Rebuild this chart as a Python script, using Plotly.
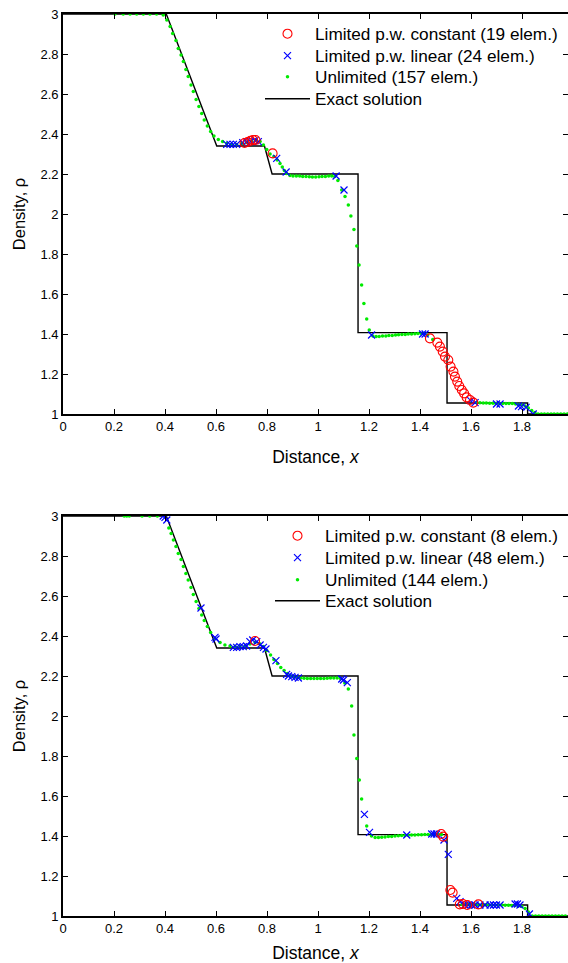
import plotly.graph_objects as go

# ---------------- exact solution (same for both panels) ----------------
exact_x = [0.0, 0.405, 0.603, 0.79, 0.82, 1.157, 1.157, 1.506, 1.506, 1.822, 1.822, 2.0]
exact_y = [3.0, 3.0, 2.34, 2.34, 2.2, 2.2, 1.407, 1.407, 1.055, 1.055, 1.0, 1.0]

# ---------------- upper panel ----------------
top_const_x = [0.712, 0.724, 0.735, 0.745, 0.755, 0.822,
               1.439, 1.468, 1.478, 1.489, 1.498, 1.511, 1.520, 1.531, 1.537,
               1.546, 1.554, 1.564, 1.573, 1.583, 1.596, 1.609]
top_const_y = [2.355, 2.360, 2.366, 2.370, 2.370, 2.303,
               1.378, 1.357, 1.337, 1.312, 1.287, 1.270, 1.237, 1.212, 1.187,
               1.162, 1.140, 1.120, 1.103, 1.083, 1.070, 1.057]

top_lin_x = [0.642, 0.655, 0.668, 0.681, 0.705, 0.720, 0.736, 0.753, 0.766, 0.838,
             0.875, 1.071, 1.102, 1.210, 1.410, 1.420, 1.599, 1.616, 1.700, 1.714,
             1.786, 1.798, 1.816, 1.844]
top_lin_y = [2.348, 2.348, 2.348, 2.348, 2.357, 2.362, 2.362, 2.367, 2.362, 2.278,
             2.210, 2.190, 2.120, 1.395, 1.400, 1.400, 1.067, 1.057, 1.050, 1.050,
             1.040, 1.037, 1.033, 1.000]

top_unl_x = [0.204, 0.236, 0.263, 0.289, 0.315, 0.341, 0.367, 0.393,
             0.407, 0.420, 0.430, 0.443, 0.452, 0.463, 0.472, 0.482, 0.491, 0.502,
             0.511, 0.522, 0.533, 0.544, 0.554, 0.566, 0.579, 0.592, 0.609, 0.626,
             0.642, 0.661, 0.681, 0.701, 0.720, 0.740, 0.757, 0.773, 0.786, 0.799,
             0.812, 0.827, 0.840, 0.851, 0.860, 0.868, 0.877,
             0.890, 0.902, 0.915, 0.928, 0.940, 0.953, 0.966, 0.978, 0.991, 1.004,
             1.016, 1.029, 1.042, 1.054, 1.066,
             1.078, 1.093, 1.106, 1.119, 1.129, 1.141, 1.152, 1.161, 1.171, 1.180,
             1.191, 1.201,
             1.215, 1.228, 1.240, 1.253, 1.266, 1.278, 1.291, 1.304, 1.316, 1.329,
             1.342, 1.354, 1.367, 1.380, 1.392, 1.405, 1.418, 1.430, 1.450,
             1.622, 1.635, 1.648, 1.660, 1.673, 1.686, 1.698, 1.711, 1.724, 1.737,
             1.749, 1.762, 1.775, 1.787, 1.800, 1.812, 1.825, 1.838, 1.850,
             1.863, 1.876, 1.888, 1.901, 1.914, 1.926, 1.939, 1.952, 1.965, 1.978]
top_unl_y = [3.000, 3.000, 3.000, 3.000, 3.000, 3.000, 3.000, 2.995,
             2.970, 2.937, 2.903, 2.867, 2.828, 2.795, 2.762, 2.723, 2.687, 2.645,
             2.612, 2.573, 2.537, 2.503, 2.470, 2.440, 2.412, 2.390, 2.373, 2.362,
             2.353, 2.348, 2.348, 2.353, 2.358, 2.365, 2.370, 2.362, 2.345, 2.322,
             2.300, 2.287, 2.270, 2.253, 2.235, 2.218, 2.203,
             2.192, 2.190, 2.190, 2.190, 2.188, 2.188, 2.186, 2.185, 2.185, 2.186,
             2.187, 2.188, 2.190, 2.190, 2.188,
             2.168, 2.120, 2.087, 2.045, 1.990, 1.923, 1.840, 1.745, 1.645, 1.553,
             1.475, 1.420,
             1.390, 1.388, 1.388, 1.390, 1.390, 1.392, 1.393, 1.395, 1.396, 1.398,
             1.398, 1.400, 1.400, 1.401, 1.402, 1.402, 1.400, 1.395, 1.372,
             1.057, 1.056, 1.055, 1.055, 1.054, 1.054, 1.053, 1.053, 1.053, 1.052,
             1.052, 1.052, 1.050, 1.048, 1.045, 1.040, 1.030, 1.018, 1.008,
             1.000, 1.000, 1.000, 1.000, 1.000, 1.000, 1.000, 1.000, 1.000, 1.000]

# ---------------- lower panel ----------------
bot_const_x = [0.753, 1.483, 1.491, 1.519, 1.528, 1.556, 1.568, 1.585, 1.629]
bot_const_y = [2.375, 1.410, 1.397, 1.130, 1.117, 1.058, 1.060, 1.055, 1.058]

bot_lin_x = [0.393, 0.400, 0.407, 0.541, 0.596, 0.600, 0.668, 0.681, 0.694, 0.707,
             0.720, 0.733, 0.744, 0.760, 0.773, 0.786, 0.796, 0.835, 0.877, 0.884,
             0.897, 0.910, 0.923, 1.093, 1.100, 1.115, 1.182, 1.202, 1.348, 1.446,
             1.455, 1.465, 1.494, 1.511, 1.544, 1.557, 1.576, 1.589, 1.603, 1.616,
             1.635, 1.655, 1.675, 1.688, 1.700, 1.714, 1.773, 1.782, 1.792, 1.829]
bot_lin_y = [3.000, 2.993, 2.980, 2.540, 2.393, 2.385, 2.343, 2.343, 2.347, 2.347,
             2.350, 2.372, 2.380, 2.372, 2.355, 2.343, 2.335, 2.277, 2.208, 2.200,
             2.197, 2.193, 2.190, 2.185, 2.180, 2.167, 1.508, 1.418, 1.405, 1.410,
             1.410, 1.410, 1.380, 1.308, 1.088, 1.072, 1.055, 1.055, 1.055, 1.055,
             1.055, 1.055, 1.055, 1.055, 1.055, 1.055, 1.060, 1.060, 1.055, 1.010]

bot_unl_x = [0.240, 0.250, 0.260, 0.310, 0.340, 0.370,
             0.415, 0.424, 0.433, 0.443, 0.452, 0.463, 0.472, 0.482, 0.491, 0.502,
             0.511, 0.522, 0.533, 0.544, 0.554, 0.566, 0.579, 0.596, 0.616, 0.635,
             0.655, 0.675, 0.694, 0.714, 0.733, 0.753, 0.770, 0.786, 0.799, 0.814,
             0.827, 0.841, 0.854, 0.867, 0.880,
             0.893, 0.906, 0.919, 0.932, 0.945, 0.958, 0.971, 0.984, 0.997, 1.010,
             1.023, 1.036, 1.049, 1.062, 1.075, 1.088,
             1.105, 1.119, 1.132, 1.141, 1.152, 1.162, 1.171, 1.191, 1.210,
             1.224, 1.237, 1.250, 1.263, 1.276, 1.289, 1.302, 1.315, 1.328, 1.341,
             1.354, 1.367, 1.380, 1.393, 1.406, 1.419, 1.432, 1.445, 1.458, 1.471,
             1.484,
             1.565, 1.578, 1.591, 1.604, 1.617, 1.630, 1.643, 1.656, 1.669, 1.682,
             1.695, 1.708, 1.721, 1.734, 1.747, 1.760, 1.773, 1.786, 1.799, 1.812,
             1.825,
             1.840, 1.853, 1.866, 1.879, 1.892, 1.905, 1.918, 1.931, 1.944, 1.957,
             1.970]
bot_unl_y = [3.000, 3.000, 3.000, 3.000, 3.000, 3.000,
             2.940, 2.913, 2.880, 2.847, 2.813, 2.783, 2.747, 2.713, 2.680, 2.643,
             2.608, 2.572, 2.538, 2.505, 2.477, 2.447, 2.417, 2.388, 2.367, 2.355,
             2.350, 2.347, 2.347, 2.350, 2.360, 2.367, 2.363, 2.347, 2.327, 2.305,
             2.283, 2.263, 2.243, 2.227, 2.213,
             2.200, 2.195, 2.192, 2.190, 2.189, 2.188, 2.188, 2.187, 2.187, 2.187,
             2.188, 2.189, 2.190, 2.190, 2.190, 2.188,
             2.165, 2.135, 2.050, 1.905, 1.788, 1.680, 1.585, 1.450, 1.400,
             1.393, 1.393, 1.394, 1.395, 1.397, 1.398, 1.400, 1.401, 1.402, 1.403,
             1.404, 1.405, 1.405, 1.406, 1.406, 1.407, 1.407, 1.408, 1.408, 1.408,
             1.408,
             1.058, 1.058, 1.057, 1.057, 1.057, 1.056, 1.056, 1.056, 1.056, 1.055,
             1.055, 1.055, 1.055, 1.054, 1.054, 1.053, 1.052, 1.050, 1.047, 1.038,
             1.020,
             1.000, 1.000, 1.000, 1.000, 1.000, 1.000, 1.000, 1.000, 1.000, 1.000,
             1.000]

top_names = ["Limited p.w. constant (19 elem.)", "Limited p.w. linear (24 elem.)",
             "Unlimited (157 elem.)", "Exact solution"]
bot_names = ["Limited p.w. constant (8 elem.)", "Limited p.w. linear (48 elem.)",
             "Unlimited (144 elem.)", "Exact solution"]

W, H = 568, 963
ML, MR, MT, MB = 63, 0, 14, 47
plot_h = H - MT - MB

# each legend entry gets its own legend box: (left edge px, row centre px)
panels = [
    dict(xa="x", ya="y", names=top_names, legs=["legend", "legend2", "legend3", "legend4"],
         leg_left=260, leg_rows=[34, 56, 77, 99],
         const=(top_const_x, top_const_y), lin=(top_lin_x, top_lin_y), unl=(top_unl_x, top_unl_y)),
    dict(xa="x2", ya="y2", names=bot_names, legs=["legend5", "legend6", "legend7", "legend8"],
         leg_left=270, leg_rows=[536, 558, 580, 601],
         const=(bot_const_x, bot_const_y), lin=(bot_lin_x, bot_lin_y), unl=(bot_unl_x, bot_unl_y)),
]

FONT = "Liberation Sans, Arial, Helvetica, sans-serif"
RED, BLUE, GREEN = "rgb(255,0,0)", "rgb(0,0,255)", "rgb(0,235,0)"

fig = go.Figure()
for p in panels:
    lc, ll, lu, le = p["legs"]
    fig.add_trace(go.Scatter(x=exact_x, y=exact_y, mode="lines", name=p["names"][3],
                             line=dict(color="black", width=1.4),
                             xaxis=p["xa"], yaxis=p["ya"], legend=le, showlegend=True))
    fig.add_trace(go.Scatter(x=p["unl"][0], y=p["unl"][1], mode="markers", name=p["names"][2],
                             marker=dict(color=GREEN, size=3.5, symbol="circle"),
                             xaxis=p["xa"], yaxis=p["ya"], legend=lu, showlegend=True))
    fig.add_trace(go.Scatter(x=p["lin"][0], y=p["lin"][1], mode="markers", name=p["names"][1],
                             marker=dict(color=BLUE, size=7, symbol="x-thin-open",
                                         line=dict(color=BLUE, width=1.2)),
                             xaxis=p["xa"], yaxis=p["ya"], legend=ll, showlegend=True))
    fig.add_trace(go.Scatter(x=p["const"][0], y=p["const"][1], mode="markers", name=p["names"][0],
                             marker=dict(color=RED, size=9, symbol="circle-open",
                                         line=dict(color=RED, width=1.1)),
                             xaxis=p["xa"], yaxis=p["ya"], legend=lc, showlegend=True))

top_dom = [(916 - 414) / plot_h, 1.0]
bot_dom = [0.0, (916 - 516) / plot_h]
x_max = (W - ML) / 255.0  # 255 px per unit of x

axis_common = dict(showline=True, linecolor="black", linewidth=1.6, mirror="ticks",
                   ticks="inside", ticklen=5, tickwidth=1, tickcolor="black",
                   showgrid=False, zeroline=False,
                   tickfont=dict(family=FONT, size=13, color="black"))

xcommon = dict(axis_common, range=[0, x_max], dtick=0.2, tick0=0,
               title=dict(text="Distance, <i>x</i>", font=dict(family=FONT, size=17.5, color="black"),
                          standoff=17))
ycommon = dict(axis_common, range=[1, 3], dtick=0.2, tick0=1,
               title=dict(text="Density, ρ", font=dict(family=FONT, size=16.5, color="black"),
                          standoff=11))

legend_common = dict(bgcolor="rgba(0,0,0,0)", borderwidth=0, itemwidth=45,
                     font=dict(family=FONT, size=17.2, color="black"),
                     xanchor="left", yanchor="middle", itemclick=False, visible=True)

legends = {}
for p in panels:
    for name, row in zip(p["legs"], p["leg_rows"]):
        legends[name] = dict(legend_common, x=(p["leg_left"] - ML) / (W - ML),
                             y=(H - MB - row) / plot_h)

fig.update_layout(
    width=W, height=H,
    showlegend=True,
    margin=dict(l=ML, r=MR, t=MT, b=MB, autoexpand=False),
    paper_bgcolor="white", plot_bgcolor="white",
    font=dict(family=FONT, color="black"),
    xaxis=dict(xcommon, anchor="y", domain=[0, 1]),
    yaxis=dict(ycommon, anchor="x", domain=top_dom),
    xaxis2=dict(xcommon, anchor="y2", domain=[0, 1]),
    yaxis2=dict(ycommon, anchor="x2", domain=bot_dom),
    **legends,
)

fig.write_html("out.html")
